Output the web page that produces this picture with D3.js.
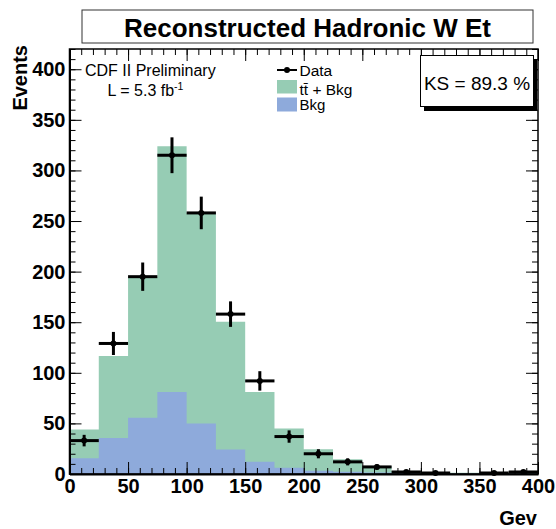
<!DOCTYPE html>
<html><head><meta charset="utf-8">
<script src="https://cdn.jsdelivr.net/npm/d3@7"></script>
<style>
body{margin:0;background:#fff}
svg{display:block}
text{font-family:"Liberation Sans",Arial,Helvetica,sans-serif;fill:#000}
</style>
</head><body>
<svg id="c" width="556" height="529"></svg>
<script>
// ---- data ----
const binLow = [0,25,50,75,100,125,150,175,200,225,250,275,300,325,350,375];
const binWidth = 25;
const totalMC = [44,116.5,195,324,257.5,150.5,81,45,24.5,14.5,8,3,1.8,1.2,1,1];      // tt + Bkg
const bkgMC   = [15.5,35.5,55.5,81,50,24.3,12.2,6.2,3.3,2.3,1.4,0.9,0.7,0.6,0.5,0.5]; // Bkg
const dataCounts = [33,129,195,315,258,158,92,37,20,12,7,2,1,null,1,2];
const dataErr    = [5.7,11.4,14.0,17.7,16.1,12.6,9.6,6.1,4.5,3.5,2.6,1.4,1.0,null,1.0,1.4];
const xTicks = [0,50,100,150,200,250,300,350,400];
const yTicks = [0,50,100,150,200,250,300,350,400];
const titleText = "Reconstructed Hadronic W Et";
const legendLabels = ["Data","tt\u0304 + Bkg","Bkg"];
const ksText = "KS = 89.3 %";

// ---- layout ----
const L=69.5,R=538,T=49,B=474;
const greenC="#96ccb4", blueC="#8eaadb";
const svg=d3.select("#c");
const x=d3.scaleLinear().domain([0,400]).range([L,R]);
const y=d3.scaleLinear().domain([0,420]).range([B,T]);

// title box
svg.append("rect").attr("x",82).attr("y",10).attr("width",451).attr("height",33)
  .attr("fill","#fff").attr("stroke","#333").attr("stroke-width",1);
svg.append("text").attr("x",307.5).attr("y",36.5).attr("text-anchor","middle")
  .attr("font-size",26).attr("font-weight","bold").text(titleText);

// histograms
function stepPts(vals){
  const pts=[];
  binLow.forEach((lo,i)=>{pts.push([lo,vals[i]]);pts.push([lo+binWidth,vals[i]]);});
  return pts;
}
const area=d3.area().x(d=>x(d[0])).y0(y(0)).y1(d=>y(d[1]));
svg.append("path").attr("d",area(stepPts(totalMC))).attr("fill",greenC);
svg.append("path").attr("d",area(stepPts(bkgMC))).attr("fill",blueC);

// axes
const minorX=d3.range(0,401,10), minorY=d3.range(0,421,10);
function styleAx(g){g.selectAll(".tick line").attr("stroke","#000").attr("stroke-width",1);}
// left
svg.append("g").attr("transform",`translate(${L},0)`)
  .call(d3.axisLeft(y).tickValues(minorY).tickSize(-6).tickFormat("").tickSizeOuter(0))
  .call(g=>g.select(".domain").remove()).call(styleAx);
const gl=svg.append("g").attr("transform",`translate(${L},0)`)
  .call(d3.axisLeft(y).tickValues(yTicks).tickSize(-12).tickPadding(4).tickSizeOuter(0)).call(styleAx);
gl.select(".domain").attr("stroke","#000").attr("stroke-width",2);
gl.selectAll("text").attr("font-size",20).attr("font-weight","bold").attr("font-family",'"Liberation Sans",Arial,sans-serif').attr("fill","#000");
// bottom
svg.append("g").attr("transform",`translate(0,${B})`)
  .call(d3.axisBottom(x).tickValues(minorX).tickSize(-6).tickFormat("").tickSizeOuter(0))
  .call(g=>g.select(".domain").remove()).call(styleAx);
const gb=svg.append("g").attr("transform",`translate(0,${B})`)
  .call(d3.axisBottom(x).tickValues(xTicks).tickSize(-12).tickPadding(5).tickSizeOuter(0)).call(styleAx);
gb.select(".domain").attr("stroke","#000").attr("stroke-width",2);
gb.selectAll("text").attr("font-size",20).attr("font-weight","bold").attr("font-family",'"Liberation Sans",Arial,sans-serif').attr("fill","#000");
// top
svg.append("g").attr("transform",`translate(0,${T})`)
  .call(d3.axisTop(x).tickValues(minorX).tickSize(-6).tickFormat("").tickSizeOuter(0))
  .call(g=>g.select(".domain").remove()).call(styleAx);
svg.append("g").attr("transform",`translate(0,${T})`)
  .call(d3.axisTop(x).tickValues(xTicks).tickSize(-12).tickFormat("").tickSizeOuter(0))
  .call(g=>g.select(".domain").remove()).call(styleAx);
// right
svg.append("g").attr("transform",`translate(${R},0)`)
  .call(d3.axisRight(y).tickValues(minorY).tickSize(-6).tickFormat("").tickSizeOuter(0))
  .call(g=>g.select(".domain").remove()).call(styleAx);
svg.append("g").attr("transform",`translate(${R},0)`)
  .call(d3.axisRight(y).tickValues(yTicks).tickSize(-12).tickFormat("").tickSizeOuter(0))
  .call(g=>g.select(".domain").remove()).call(styleAx);
// frame
svg.append("rect").attr("x",L).attr("y",T).attr("width",R-L).attr("height",B-T)
  .attr("fill","none").attr("stroke","#000").attr("stroke-width",1.5);

// axis titles
svg.append("text").attr("x",537).attr("y",525).attr("text-anchor","end")
  .attr("font-size",20).attr("font-weight","bold").text("Gev");
svg.append("text").attr("transform","translate(27,45) rotate(-90)").attr("text-anchor","end")
  .attr("font-size",20).attr("font-weight","bold").text("Events");

// data points
const pts=binLow.map((lo,i)=>({lo,v:dataCounts[i],e:dataErr[i]})).filter(d=>d.v!==null);
const gd=svg.append("g");
gd.selectAll(".h").data(pts).join("line")
  .attr("x1",d=>x(d.lo)).attr("x2",d=>x(d.lo+binWidth))
  .attr("y1",d=>y(d.v)).attr("y2",d=>y(d.v)).attr("stroke","#000").attr("stroke-width",3);
gd.selectAll(".v").data(pts).join("line")
  .attr("x1",d=>x(d.lo+binWidth/2)).attr("x2",d=>x(d.lo+binWidth/2))
  .attr("y1",d=>y(d.v-d.e)).attr("y2",d=>y(d.v+d.e)).attr("stroke","#000").attr("stroke-width",3);
gd.selectAll("circle").data(pts).join("circle")
  .attr("cx",d=>x(d.lo+binWidth/2)).attr("cy",d=>y(d.v)).attr("r",3).attr("fill","#000");

// text labels
svg.append("text").attr("x",85).attr("y",76).attr("font-size",16).text("CDF II Preliminary");
const lt=svg.append("text").attr("x",107.5).attr("y",95.5).attr("font-size",16);
lt.append("tspan").text("L = 5.3 fb");
lt.append("tspan").attr("font-size",10.5).attr("dy",-6).text("-1");

// legend
svg.append("line").attr("x1",277).attr("x2",297).attr("y1",70).attr("y2",70).attr("stroke","#000").attr("stroke-width",2);
svg.append("circle").attr("cx",287).attr("cy",70).attr("r",3).attr("fill","#000");
svg.append("rect").attr("x",277).attr("y",80).attr("width",20).attr("height",13.5).attr("fill",greenC);
svg.append("rect").attr("x",277).attr("y",97.5).attr("width",20).attr("height",14).attr("fill",blueC);
[[75.5,0,15.5],[94.5,1,15.5],[110,2,15]].forEach(([yy,i,fs])=>{
  svg.append("text").attr("x",299.5).attr("y",yy).attr("font-size",fs).text(legendLabels[i]);
});

// KS box
svg.append("rect").attr("x",424).attr("y",59).attr("width",113).attr("height",52).attr("fill","#000");
svg.append("rect").attr("x",420.5).attr("y",55.5).attr("width",113).attr("height",51).attr("fill","#fff").attr("stroke","#000").attr("stroke-width",1);
svg.append("text").attr("x",477).attr("y",90).attr("text-anchor","middle").attr("font-size",19).text(ksText);
</script>
</body></html>
